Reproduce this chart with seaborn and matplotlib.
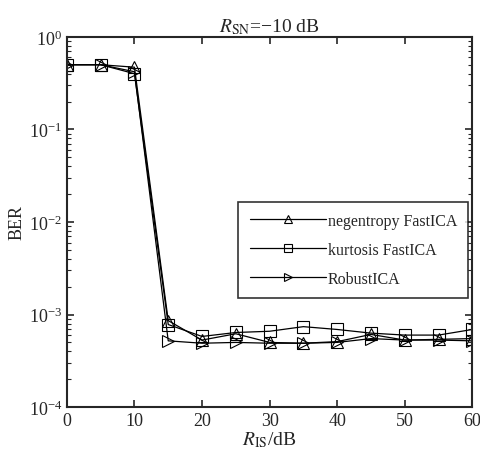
import numpy as np
import pandas as pd
import matplotlib.pyplot as plt
import seaborn as sns

# ── data ─────────────────────────────────────────────────────────────────────
R_IS = [0, 5, 10, 15, 20, 25, 30, 35, 40, 45, 50, 55, 60]
negentropy = [0.5, 0.5, 0.47, 8.6e-4, 5.3e-4, 6.2e-4, 5.0e-4, 4.9e-4, 5.1e-4, 6.1e-4, 5.3e-4, 5.4e-4, 5.5e-4]
kurtosis   = [0.5, 0.5, 0.40, 7.8e-4, 5.8e-4, 6.4e-4, 6.6e-4, 7.4e-4, 6.9e-4, 6.3e-4, 6.0e-4, 6.0e-4, 6.9e-4]
robust     = [0.5, 0.5, 0.42, 5.2e-4, 4.9e-4, 5.0e-4, 4.9e-4, 4.9e-4, 5.0e-4, 5.5e-4, 5.3e-4, 5.3e-4, 5.2e-4]
labels = ["negentropy FastICA", "kurtosis FastICA", "RobustICA"]

df = pd.concat([
    pd.DataFrame({"R_IS": R_IS, "BER": vals, "method": lab})
    for vals, lab in zip([negentropy, kurtosis, robust], labels)
])

sns.set_style("ticks")
plt.rcParams["font.family"] = ["Liberation Serif", "DejaVu Serif"]
plt.rcParams["mathtext.fontset"] = "stix"
plt.rcParams["xtick.direction"] = "in"
plt.rcParams["ytick.direction"] = "in"

fig = plt.figure(figsize=(4.81, 4.56), dpi=100)
ax = fig.add_axes([0.139, 0.105, 0.843, 0.812])

sns.lineplot(data=df, x="R_IS", y="BER", style="method", hue="method",
             palette=["black"] * 3, markers={labels[0]: "^", labels[1]: "s", labels[2]: ">"},
             dashes=False, markersize=8, markerfacecolor="none", markeredgecolor="black",
             markeredgewidth=0.8, linewidth=0.9, ax=ax)

ax.set_yscale("log")
ax.set_xlim(0, 60)
ax.set_ylim(1e-4, 1)
ax.set_xticks(range(0, 61, 10))
ax.set_xticklabels(["0"] + [str(v) for v in range(10, 61, 10)])
ax.tick_params(which="both", top=True, right=True, labelsize=13, width=1.2)
ax.tick_params(which="major", length=5)
ax.tick_params(which="minor", length=3, width=0.8)
for s in ax.spines.values():
    s.set_linewidth(1.5)

ax.set_title(r"$R_{\rm SN}$=−10 dB", fontsize=14, pad=4)
ax.set_xlabel(r"$R_{\rm IS}$/dB", fontsize=14, labelpad=0)
ax.set_ylabel("BER", fontsize=13, labelpad=2)

leg = ax.legend(loc="center right", bbox_to_anchor=(1.01, 0.425), fontsize=11.5,
                frameon=True, fancybox=False, edgecolor="black", handlelength=4.8,
                markerscale=0.7, labelspacing=0.8, borderpad=0.7, handletextpad=0.1)
leg.get_frame().set_linewidth(1.2)

fig.savefig("out.png", dpi=100)
